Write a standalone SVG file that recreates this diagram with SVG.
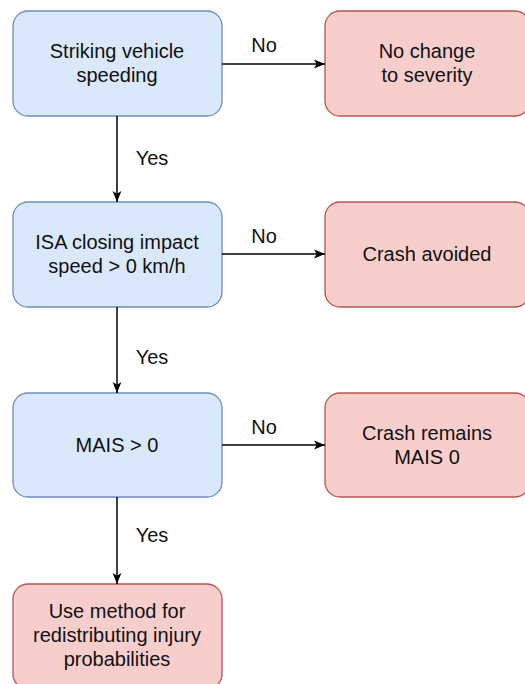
<svg xmlns="http://www.w3.org/2000/svg" width="525" height="684" viewBox="0 0 525 684">
  <style>
    text { font-family: "Liberation Sans", Arial, Helvetica, sans-serif; font-size: 20px; fill: #111; text-anchor: middle; }
    .q rect { fill: #dae8fc; stroke: #6c8ebf; stroke-width: 1.3; }
    .r rect { fill: #f8cecc; stroke: #b85450; stroke-width: 1.3; }
    .edge { stroke: #000; stroke-width: 1.5; fill: none; marker-end: url(#arrow); }
  </style>
  <defs>
    <marker id="arrow" viewBox="0 0 10 10" refX="10" refY="5" markerUnits="userSpaceOnUse" markerWidth="11" markerHeight="11" orient="auto">
      <path d="M0,1 L10,5 L0,9 L2.5,5 Z" fill="#000"/>
    </marker>
  </defs>
  <rect width="525" height="684" fill="#fff"/>

  <!-- decision nodes -->
  <g id="speeding" class="q">
    <rect x="13" y="11" width="209" height="105" rx="15"/>
    <text x="117" y="58">Striking vehicle</text>
    <text x="117" y="82">speeding</text>
  </g>
  <g id="closing-speed" class="q">
    <rect x="13" y="202" width="209" height="105" rx="15"/>
    <text x="117" y="249">ISA closing impact</text>
    <text x="117" y="273">speed &gt; 0 km/h</text>
  </g>
  <g id="mais" class="q">
    <rect x="13" y="393" width="209" height="104" rx="15"/>
    <text x="117" y="452">MAIS &gt; 0</text>
  </g>

  <!-- outcome nodes -->
  <g id="no-change" class="r">
    <rect x="325" y="11" width="205" height="105" rx="15"/>
    <text x="427" y="58">No change</text>
    <text x="427" y="82">to severity</text>
  </g>
  <g id="avoided" class="r">
    <rect x="325" y="202" width="205" height="105" rx="15"/>
    <text x="427" y="261">Crash avoided</text>
  </g>
  <g id="remains" class="r">
    <rect x="325" y="393" width="205" height="104" rx="15"/>
    <text x="427" y="440">Crash remains</text>
    <text x="427" y="464">MAIS 0</text>
  </g>
  <g id="redistribute" class="r">
    <rect x="13" y="584" width="209" height="105" rx="15"/>
    <text x="117" y="618">Use method for</text>
    <text x="117" y="642">redistributing injury</text>
    <text x="117" y="666">probabilities</text>
  </g>

  <!-- connectors -->
  <g id="connectors">
    <path class="edge" d="M222,64 L325,64"/>
    <path class="edge" d="M222,254 L325,254"/>
    <path class="edge" d="M222,445 L325,445"/>
    <path class="edge" d="M117,116 L117,202"/>
    <path class="edge" d="M117,307 L117,393"/>
    <path class="edge" d="M117,497 L117,584"/>
    <text x="264" y="52">No</text>
    <text x="264" y="243">No</text>
    <text x="264" y="434">No</text>
    <text x="152" y="165">Yes</text>
    <text x="152" y="364">Yes</text>
    <text x="152" y="542">Yes</text>
  </g>
</svg>
